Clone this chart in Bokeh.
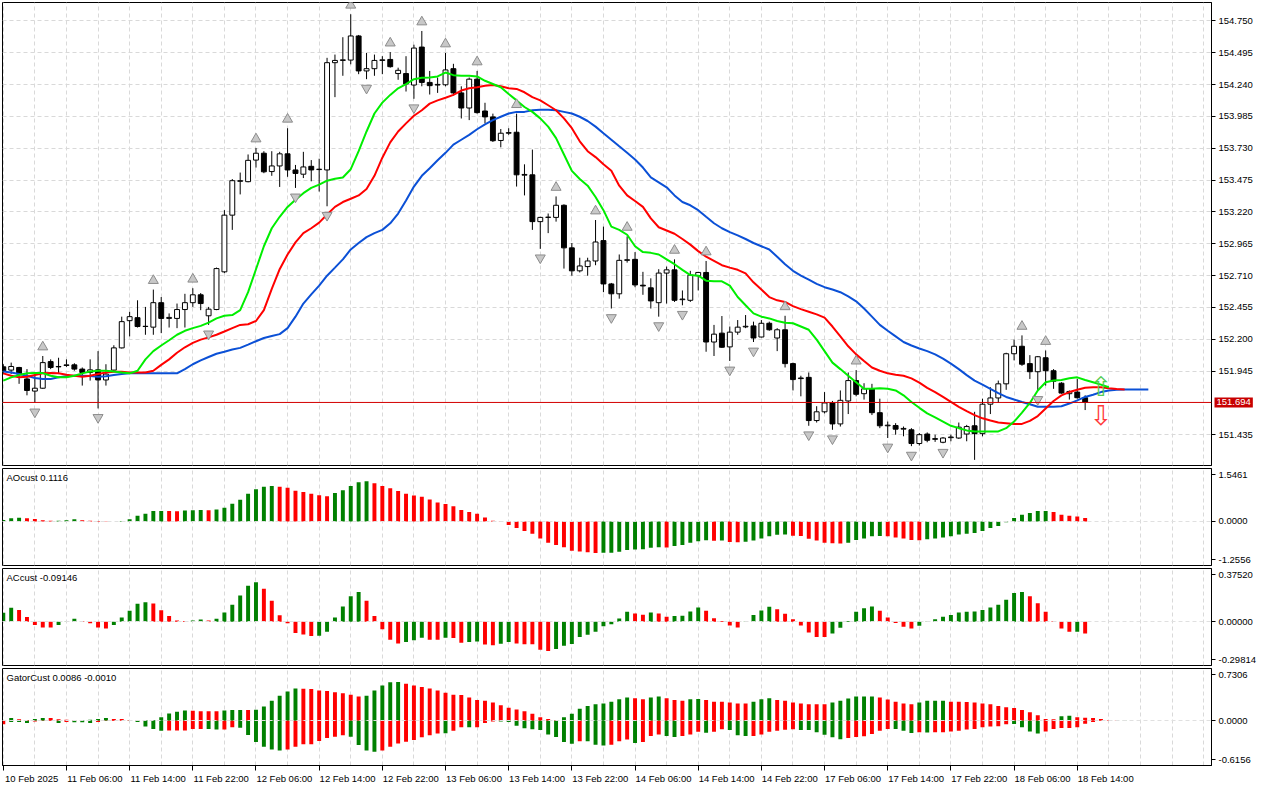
from bokeh.plotting import figure
from bokeh.layouts import column
from bokeh.models import (Range1d, FixedTicker, PrintfTickFormatter, Span, Label, ColumnDataSource,
                          CustomJSTickFormatter)
from bokeh.embed import file_html
from bokeh.resources import INLINE
from bokeh.core.properties import value

# ---------------- data (USDJPY H1) ----------------
TIME_LABELS = ["10 Feb 2025", "11 Feb 06:00", "11 Feb 14:00", "11 Feb 22:00", "12 Feb 06:00",
               "12 Feb 14:00", "12 Feb 22:00", "13 Feb 06:00", "13 Feb 14:00", "13 Feb 22:00",
               "14 Feb 06:00", "14 Feb 14:00", "14 Feb 22:00", "17 Feb 06:00", "17 Feb 14:00",
               "17 Feb 22:00", "18 Feb 06:00", "18 Feb 14:00"]
LABEL_STEP = 8
GRID_STEP = 4

PRICE_TICKS = [154.750, 154.495, 154.240, 153.985, 153.730, 153.475, 153.220, 152.965,
               152.710, 152.455, 152.200, 151.945, 151.435]
PRICE_GRID = [154.750, 154.495, 154.240, 153.985, 153.730, 153.475, 153.220, 152.965,
              152.710, 152.455, 152.200, 151.945, 151.690, 151.435]
PRICE_RANGE = (151.189, 154.897)
LAST_PRICE = 151.694

opens = [151.979, 151.953, 151.974, 151.882, 151.785, 151.808, 152.021, 151.982, 151.990, 151.995,
         151.961, 151.934, 151.955, 151.874, 151.953, 152.131, 152.349, 152.373, 152.302, 152.297,
         152.493, 152.367, 152.367, 152.438, 152.493, 152.556, 152.388, 152.438, 152.740, 153.194,
         153.465, 153.462, 153.635, 153.690, 153.543, 153.588, 153.685, 153.556, 153.522, 153.585,
         153.559, 153.556, 154.415, 154.433, 154.436, 154.629, 154.349, 154.367, 154.433, 154.441,
         154.328, 154.328, 154.236, 154.540, 154.257, 154.236, 154.238, 154.367, 154.173, 154.052,
         154.283, 154.028, 153.981, 153.792, 153.850, 153.858, 153.514, 153.517, 153.142, 153.176,
         153.176, 153.273, 152.932, 152.748, 152.782, 152.827, 152.990, 152.643, 152.564, 152.832,
         152.840, 152.633, 152.612, 152.493, 152.730, 152.756, 152.517, 152.512, 152.709, 152.735,
         152.178, 152.249, 152.139, 152.257, 152.299, 152.307, 152.218, 152.328, 152.210, 152.276,
         152.005, 151.890, 151.895, 151.549, 151.619, 151.690, 151.522, 151.706, 151.869, 151.764,
         151.803, 151.612, 151.507, 151.509, 151.480, 151.475, 151.365, 151.441, 151.404, 151.375,
         151.412, 151.409, 151.441, 151.507, 151.444, 151.680, 151.730, 151.843, 152.084, 152.144,
         152.005, 151.940, 152.052, 151.948, 151.848, 151.764, 151.777, 151.732]
highs = [152.000, 152.013, 151.979, 151.961, 151.921, 152.066, 152.039, 152.052, 152.039, 152.008,
         151.974, 152.039, 152.105, 152.000, 152.152, 152.381, 152.420, 152.512, 152.459, 152.598,
         152.538, 152.407, 152.486, 152.564, 152.609, 152.570, 152.459, 152.774, 153.234, 153.483,
         153.535, 153.680, 153.732, 153.706, 153.706, 153.701, 153.890, 153.596, 153.701, 153.635,
         153.646, 154.454, 154.480, 154.619, 154.803, 154.637, 154.493, 154.480, 154.467, 154.500,
         154.375, 154.467, 154.559, 154.669, 154.349, 154.296, 154.493, 154.406, 154.226, 154.296,
         154.349, 154.094, 154.007, 153.884, 153.890, 154.007, 153.601, 153.719, 153.181, 153.207,
         153.344, 153.281, 152.971, 152.853, 152.853, 153.155, 153.102, 152.651, 152.879, 153.024,
         152.898, 152.740, 152.688, 152.761, 152.782, 152.840, 152.591, 152.748, 152.740, 152.827,
         152.315, 152.386, 152.302, 152.354, 152.394, 152.341, 152.354, 152.341, 152.289, 152.388,
         152.013, 151.908, 151.934, 151.664, 151.777, 151.706, 151.790, 151.934, 151.953, 151.848,
         151.843, 151.724, 151.541, 151.528, 151.501, 151.488, 151.449, 151.454, 151.436, 151.417,
         151.436, 151.533, 151.514, 151.619, 151.724, 151.816, 151.869, 152.092, 152.197, 152.231,
         152.073, 152.066, 152.110, 151.961, 151.856, 151.790, 151.882, 151.751]
lows = [151.921, 151.921, 151.843, 151.751, 151.690, 151.803, 151.961, 151.921, 151.979, 151.948,
        151.829, 151.869, 151.646, 151.829, 151.948, 152.126, 152.223, 152.294, 152.236, 152.236,
        152.249, 152.294, 152.289, 152.294, 152.459, 152.433, 152.315, 152.433, 152.730, 153.076,
        153.360, 153.457, 153.575, 153.530, 153.509, 153.420, 153.501, 153.412, 153.491, 153.465,
        153.383, 153.265, 154.139, 154.310, 154.402, 154.323, 154.283, 154.310, 154.323, 154.375,
        154.278, 154.184, 154.126, 154.226, 154.160, 154.173, 154.226, 154.152, 153.968, 153.955,
        154.007, 153.929, 153.780, 153.737, 153.837, 153.423, 153.352, 153.076, 152.924, 153.050,
        153.142, 152.766, 152.709, 152.735, 152.709, 152.793, 152.577, 152.446, 152.525, 152.814,
        152.617, 152.556, 152.446, 152.381, 152.486, 152.499, 152.472, 152.499, 152.591, 152.100,
        152.066, 152.131, 152.026, 152.236, 152.289, 152.178, 152.215, 152.268, 152.105, 151.974,
        151.790, 151.743, 151.507, 151.533, 151.606, 151.475, 151.501, 151.601, 151.743, 151.717,
        151.593, 151.488, 151.409, 151.436, 151.423, 151.344, 151.349, 151.375, 151.378, 151.367,
        151.383, 151.402, 151.383, 151.234, 151.423, 151.601, 151.690, 151.795, 152.031, 151.987,
        151.882, 151.790, 151.829, 151.803, 151.764, 151.717, 151.724, 151.633]
closes = [151.948, 151.982, 151.921, 151.790, 151.808, 152.013, 151.974, 151.979, 151.995, 151.961,
          151.934, 151.955, 151.874, 151.921, 152.131, 152.341, 152.381, 152.302, 152.304, 152.493,
          152.367, 152.375, 152.438, 152.493, 152.556, 152.486, 152.441, 152.766, 153.194, 153.470,
          153.470, 153.633, 153.690, 153.541, 153.588, 153.685, 153.556, 153.528, 153.580, 153.556,
          153.562, 154.415, 154.433, 154.438, 154.629, 154.349, 154.367, 154.433, 154.438, 154.383,
          154.354, 154.244, 154.532, 154.257, 154.231, 154.241, 154.357, 154.173, 154.052, 154.283,
          154.015, 153.981, 153.790, 153.850, 153.855, 153.517, 153.520, 153.142, 153.176, 153.178,
          153.273, 152.932, 152.748, 152.787, 152.827, 152.979, 152.643, 152.564, 152.832, 152.837,
          152.635, 152.627, 152.507, 152.730, 152.756, 152.512, 152.522, 152.714, 152.735, 152.178,
          152.241, 152.136, 152.257, 152.297, 152.304, 152.210, 152.328, 152.276, 152.276, 152.005,
          151.877, 151.885, 151.549, 151.619, 151.690, 151.522, 151.711, 151.869, 151.759, 151.803,
          151.612, 151.507, 151.512, 151.480, 151.486, 151.365, 151.436, 151.391, 151.399, 151.409,
          151.417, 151.496, 151.501, 151.444, 151.680, 151.730, 151.843, 152.084, 152.144, 152.000,
          151.940, 152.060, 151.948, 151.864, 151.769, 151.782, 151.732, 151.694]

# Alligator lines (already shifted forward: lips +3, teeth +5, jaw +8)
lips = [151.869, 151.895, 151.913, 151.927, 151.929, 151.929, 151.908, 151.895, 151.895, 151.908,
        151.927, 151.942, 151.948, 151.948, 151.942, 151.934, 151.927, 151.948, 152.039, 152.105,
        152.150, 152.192, 152.236, 152.268, 152.289, 152.307, 152.333, 152.367, 152.388, 152.394,
        152.433, 152.577, 152.761, 152.945, 153.089, 153.181, 153.260, 153.318, 153.370, 153.412,
        153.438, 153.470, 153.486, 153.496, 153.562, 153.706, 153.864, 154.008, 154.095, 154.157,
        154.210, 154.244, 154.283, 154.294, 154.297, 154.305, 154.336, 154.315, 154.310, 154.310,
        154.305, 154.270, 154.244, 154.218, 154.165, 154.113, 154.060, 154.021, 153.969, 153.903,
        153.811, 153.680, 153.549, 153.483, 153.430, 153.339, 153.234, 153.102, 153.076, 153.037,
        152.945, 152.898, 152.892, 152.879, 152.840, 152.801, 152.756, 152.714, 152.709, 152.669,
        152.664, 152.664, 152.630, 152.538, 152.472, 152.407, 152.381, 152.367, 152.346, 152.333,
        152.328, 152.302, 152.276, 152.197, 152.105, 152.013, 151.961, 151.908, 151.856, 151.803,
        151.803, 151.808, 151.803, 151.790, 151.751, 151.698, 151.651, 151.606, 151.575, 151.541,
        151.507, 151.488, 151.470, 151.462, 151.462, 151.462, 151.462, 151.488, 151.541, 151.612,
        151.690, 151.790, 151.856, 151.869, 151.874, 151.887, 151.895, 151.874, 151.856, 151.837,
        151.816]
teeth = [151.927, 151.908, 151.895, 151.900, 151.913, 151.927, 151.929, 151.927, 151.916, 151.908,
         151.900, 151.908, 151.921, 151.934, 151.940, 151.940, 151.934, 151.934, 151.934, 151.948,
         151.995, 152.039, 152.092, 152.136, 152.171, 152.197, 152.215, 152.236, 152.262, 152.289,
         152.315, 152.320, 152.346, 152.433, 152.604, 152.761, 152.879, 152.976, 153.050, 153.089,
         153.134, 153.199, 153.260, 153.299, 153.325, 153.352, 153.404, 153.509, 153.654, 153.777,
         153.864, 153.929, 153.990, 154.034, 154.087, 154.113, 154.134, 154.157, 154.192, 154.210,
         154.218, 154.231, 154.236, 154.226, 154.210, 154.205, 154.178, 154.139, 154.113, 154.074,
         154.034, 153.969, 153.890, 153.785, 153.706, 153.659, 153.601, 153.549, 153.430, 153.352,
         153.307, 153.260, 153.168, 153.097, 153.071, 153.045, 153.003, 152.958, 152.906, 152.861,
         152.827, 152.793, 152.774, 152.756, 152.727, 152.656, 152.598, 152.538, 152.512, 152.499,
         152.465, 152.441, 152.420, 152.399, 152.373, 152.302, 152.223, 152.144, 152.079, 152.026,
         151.974, 151.948, 151.927, 151.916, 151.908, 151.887, 151.853, 151.811, 151.777, 151.738,
         151.698, 151.659, 151.625, 151.593, 151.567, 151.549, 151.533, 151.528, 151.522, 151.522,
         151.546, 151.585, 151.646, 151.706, 151.751, 151.777, 151.795, 151.811, 151.816, 151.816,
         151.808, 151.801, 151.798]
jaw = [151.942, 151.934, 151.921, 151.908, 151.890, 151.882, 151.882, 151.895, 151.903, 151.908,
       151.908, 151.906, 151.900, 151.903, 151.913, 151.921, 151.927, 151.927, 151.927, 151.927,
       151.927, 151.927, 151.927, 151.961, 152.000, 152.031, 152.058, 152.084, 152.100, 152.118,
       152.131, 152.157, 152.184, 152.210, 152.226, 152.241, 152.289, 152.381, 152.486, 152.559,
       152.630, 152.709, 152.774, 152.840, 152.919, 152.971, 153.018, 153.050, 153.076, 153.129,
       153.207, 153.312, 153.423, 153.509, 153.570, 153.633, 153.693, 153.759, 153.798, 153.837,
       153.882, 153.921, 153.955, 153.982, 154.008, 154.021, 154.021, 154.034, 154.039, 154.039,
       154.034, 154.021, 154.008, 153.982, 153.948, 153.903, 153.850, 153.798, 153.745, 153.693,
       153.640, 153.575, 153.496, 153.457, 153.417, 153.352, 153.299, 153.273, 153.234, 153.181,
       153.129, 153.089, 153.058, 153.032, 153.003, 152.971, 152.945, 152.919, 152.861, 152.801,
       152.748, 152.709, 152.677, 152.643, 152.617, 152.598, 152.577, 152.543, 152.504, 152.446,
       152.381, 152.315, 152.268, 152.223, 152.178, 152.150, 152.126, 152.105, 152.079, 152.045,
       152.005, 151.961, 151.913, 151.869, 151.837, 151.803, 151.769, 151.738, 151.717, 151.698,
       151.680, 151.659, 151.659, 151.659, 151.664, 151.685, 151.711, 151.738, 151.756, 151.777,
       151.790, 151.795, 151.798, 151.798, 151.798, 151.798]

fractal_up_bars = [5, 19, 24, 32, 36, 44, 49, 53, 56, 60, 65, 70, 75, 79, 85, 89, 99, 108, 129, 132]
fractal_down_bars = [4, 12, 26, 37, 41, 46, 52, 68, 77, 83, 86, 92, 95, 102, 105, 112, 115, 119, 123, 131]

signal_bar = [139]
signal_buy_price = [151.818]
signal_sell_price = [151.590]

# Awesome Oscillator
AO_NAME = "AOcust 0.1116"
AO_TICKS = [1.5461, 0.0, -1.2556]
ao = [0.05, 0.10, 0.12, 0.10, 0.08, 0.04, 0.02, 0.025, 0.04, 0.07,
      0.04, 0.02, -0.02, -0.01, -0.005, 0.01, 0.07, 0.19, 0.25, 0.34,
      0.345, 0.34, 0.335, 0.36, 0.37, 0.375, 0.37, 0.39, 0.45, 0.58,
      0.71, 0.91, 1.06, 1.14, 1.17, 1.14, 1.11, 1.01, 0.97, 0.91,
      0.86, 0.83, 0.94, 1.03, 1.17, 1.29, 1.32, 1.26, 1.17, 1.09,
      1.00, 0.91, 0.85, 0.81, 0.72, 0.62, 0.57, 0.50, 0.38, 0.31,
      0.25, 0.13, 0.02, -0.01, -0.12, -0.22, -0.32, -0.41, -0.56, -0.70,
      -0.78, -0.85, -0.97, -0.99, -1.02, -1.04, -1.035, -1.03, -1.00, -0.94,
      -0.93, -0.92, -0.87, -0.85, -0.86, -0.81, -0.78, -0.70, -0.65, -0.62,
      -0.64, -0.63, -0.68, -0.69, -0.67, -0.63, -0.56, -0.49, -0.44, -0.43,
      -0.47, -0.48, -0.57, -0.63, -0.70, -0.72, -0.73, -0.70, -0.61, -0.56,
      -0.49, -0.48, -0.49, -0.53, -0.56, -0.61, -0.62, -0.59, -0.56, -0.53,
      -0.49, -0.43, -0.41, -0.38, -0.32, -0.22, -0.15, -0.03, 0.11, 0.22,
      0.28, 0.34, 0.345, 0.31, 0.22, 0.19, 0.16, 0.1116]
ao_dir = ("ggg" + "rrrr" + "ggg" + "rrrr" + "ggggggg" + "rr" + "ggg" + "r" + "gggggggg" +
          "rrrrrrr" + "ggggg" + "rrrrrrrrrrrrrrrrrrrrrrrrrrrrr" + "gggggggg" + "r" + "ggggg" +
          "r" + "g" + "rr" + "gggggg" + "rrrrrrr" + "ggggg" + "rrrrr" + "gggggggggggggggg" + "rrrrr")

# Accelerator Oscillator
AC_NAME = "ACcust -0.09146"
AC_TICKS = [0.37520, 0.0, -0.29814]
ac = [0.072, 0.112, 0.094, 0.038, -0.025, -0.045, -0.045, -0.025, 0.002, 0.025,
      0.007, -0.011, -0.045, -0.052, -0.025, 0.034, 0.088, 0.144, 0.155, 0.146,
      0.092, 0.047, 0.011, 0.007, 0.011, 0.018, 0.011, 0.025, 0.074, 0.135,
      0.209, 0.287, 0.314, 0.263, 0.168, 0.052, -0.011, -0.088, -0.101, -0.112,
      -0.110, -0.079, 0.034, 0.121, 0.202, 0.236, 0.168, 0.047, -0.058, -0.141,
      -0.171, -0.159, -0.146, -0.126, -0.141, -0.142, -0.126, -0.127, -0.166, -0.159,
      -0.155, -0.180, -0.186, -0.173, -0.159, -0.171, -0.177, -0.178, -0.220, -0.231,
      -0.215, -0.189, -0.175, -0.119, -0.103, -0.079, -0.034, -0.018, 0.027, 0.081,
      0.067, 0.056, 0.074, 0.067, 0.040, 0.047, 0.048, 0.083, 0.114, 0.088,
      0.029, 0.007, -0.029, -0.045, -0.002, 0.054, 0.090, 0.119, 0.099, 0.065,
      0.020, -0.029, -0.085, -0.119, -0.120, -0.092, -0.047, 0.007, 0.081, 0.108,
      0.121, 0.088, 0.034, -0.009, -0.038, -0.052, -0.031, -0.002, 0.020, 0.040,
      0.054, 0.074, 0.081, 0.083, 0.094, 0.114, 0.135, 0.175, 0.229, 0.236,
      0.202, 0.148, 0.081, 0.007, -0.052, -0.079, -0.078, -0.09146]
ac_dir = ("gg" + "rrrrr" + "ggg" + "rrrr" + "ggggg" + "rrrrr" + "gg" + "r" + "gggggg" + "rrrrrrr" +
          "gggggg" + "rrrrr" + "ggg" + "rr" + "g" + "rr" + "gg" + "rr" + "gg" + "rrrrr" +
          "gggggggggg" + "rr" + "g" + "rr" + "gggg" + "rrrrr" + "gggg" + "rrrrrrr" + "gggggg" +
          "rrrrr" + "gggggggggggggg" + "rrrrrr" + "g" + "r")

# Gator Oscillator
GATOR_NAME = "GatorCust 0.0086 -0.0010"
GATOR_TICKS = [0.7306, 0.0, -0.6156]
gator_up = [0.010, 0.041, 0.023, 0.009, 0.027, 0.041, 0.040, 0.023, 0.014, 0.005,
            0.006, 0.014, 0.027, 0.041, 0.027, 0.026, 0.009, 0.001, 0.009, 0.010,
            0.054, 0.113, 0.141, 0.159, 0.158, 0.150, 0.149, 0.148, 0.159, 0.168,
            0.169, 0.167, 0.172, 0.222, 0.313, 0.395, 0.463, 0.508, 0.505, 0.500,
            0.476, 0.470, 0.449, 0.435, 0.408, 0.381, 0.395, 0.476, 0.558, 0.608,
            0.612, 0.585, 0.558, 0.531, 0.508, 0.476, 0.440, 0.410, 0.406, 0.367,
            0.327, 0.313, 0.286, 0.245, 0.204, 0.177, 0.150, 0.109, 0.054, 0.027,
            0.005, 0.054, 0.109, 0.190, 0.231, 0.259, 0.272, 0.299, 0.340, 0.367,
            0.354, 0.340, 0.367, 0.381, 0.354, 0.327, 0.313, 0.340, 0.341, 0.327,
            0.299, 0.298, 0.286, 0.272, 0.271, 0.299, 0.340, 0.354, 0.327, 0.313,
            0.286, 0.272, 0.259, 0.259, 0.258, 0.286, 0.313, 0.349, 0.381, 0.382,
            0.383, 0.367, 0.336, 0.299, 0.272, 0.259, 0.286, 0.313, 0.314, 0.315,
            0.299, 0.298, 0.297, 0.286, 0.272, 0.259, 0.231, 0.213, 0.200, 0.168,
            0.132, 0.086, 0.027, 0.020, 0.068, 0.077, 0.054, 0.045, 0.041, 0.027,
            0.005, 0.002, 0.002]
gator_up_dir = ("r" + "g" + "rr" + "gg" + "rrrr" + "gggg" + "rrrr" + "gggggg" + "rrrr" + "ggg" +
                "r" + "gggggg" + "rrrrrrrr" + "ggggg" + "rrrrrrrrrrrrrrrrrrrr" + "ggggggggg" +
                "rr" + "gg" + "rrr" + "gg" + "rrrrrr" + "ggg" + "rrrrrrr" + "gggggg" + "rrrrr" +
                "gggg" + "rrrrrrrrrrrrrr" + "gg" + "rrrrrr" + "g")
gator_down = [-0.059, -0.023, -0.023, -0.036, -0.014, -0.005, -0.004, -0.036, -0.023, -0.025,
              -0.027, -0.036, -0.023, -0.005, -0.004, -0.003, -0.005, -0.023, -0.091, -0.132,
              -0.159, -0.158, -0.157, -0.156, -0.132, -0.131, -0.132, -0.141, -0.140, -0.104,
              -0.113, -0.227, -0.340, -0.413, -0.458, -0.472, -0.458, -0.413, -0.376, -0.375,
              -0.322, -0.277, -0.254, -0.231, -0.254, -0.385, -0.472, -0.494, -0.472, -0.413,
              -0.363, -0.336, -0.308, -0.263, -0.231, -0.204, -0.200, -0.159, -0.104, -0.104,
              -0.104, -0.036, -0.014, -0.014, -0.023, -0.082, -0.122, -0.136, -0.150, -0.218,
              -0.259, -0.340, -0.367, -0.327, -0.327, -0.381, -0.395, -0.381, -0.327, -0.299,
              -0.354, -0.340, -0.245, -0.218, -0.245, -0.259, -0.245, -0.218, -0.177, -0.190,
              -0.177, -0.136, -0.150, -0.231, -0.245, -0.245, -0.218, -0.177, -0.159, -0.145,
              -0.136, -0.150, -0.150, -0.186, -0.222, -0.263, -0.295, -0.277, -0.259, -0.249,
              -0.213, -0.159, -0.132, -0.133, -0.159, -0.195, -0.186, -0.187, -0.186, -0.185,
              -0.172, -0.159, -0.141, -0.132, -0.104, -0.091, -0.090, -0.059, -0.052, -0.104,
              -0.172, -0.204, -0.172, -0.132, -0.118, -0.118, -0.104, -0.050, -0.023]
gator_down_dir = ("r" + "ggg" + "rrr" + "g" + "r" + "ggg" + "rrrr" + "ggggg" + "rrrrr" + "gg" +
                  "rr" + "gggggg" + "rrrrrrrr" + "gggg" + "rrrrrrrr" + "g" + "rr" + "g" + "rrr" +
                  "gggggggggg" + "r" + "ggg" + "rrr" + "g" + "rrr" + "gg" + "rrr" + "g" + "rr" +
                  "ggg" + "rrrrrr" + "gggggg" + "rrrrrr" + "ggg" + "r" + "g" + "rrrrrrrrrr" +
                  "gggg" + "rrrrrrr")

# ---------------- style ----------------
FONT = "Liberation Sans"
FS = "9.5px"
GREEN = "#008000"
RED = "#FF0000"
GRID_COLOR = "#d9d9d9"
FW = 1209
LEFT = 2
RIGHT = 53
MAIN_H = 463
SUB_H = 97
X_START, X_END = -0.1, 153.0
LABEL_SHIFT = 3.6   # date texts start at their tick: centre sits about half a label to the right

xr = Range1d(X_START, X_END)
n = len(closes)
grid_ticks = list(range(0, 156, GRID_STEP))


def padded(lo, hi, h, pad=6):
    k = (hi - lo) / (h - 2 * pad)
    return lo - pad * k, hi + pad * k


def make_fig(frame_h, yr, yticks, fmt, top=2, bottom=1, xaxis=False, zero_grid=False):
    p = figure(frame_width=FW, frame_height=frame_h, x_range=xr, y_range=Range1d(*yr),
               output_backend="svg", toolbar_location=None,
               x_axis_location="below" if xaxis else None, y_axis_location="right",
               min_border_left=LEFT, min_border_right=RIGHT, min_border_top=top,
               min_border_bottom=bottom, background_fill_color="white",
               border_fill_color="white")
    p.outline_line_color = "black"
    p.outline_line_width = 1
    ya = p.yaxis[0]
    ya.ticker = FixedTicker(ticks=yticks)
    ya.formatter = PrintfTickFormatter(format=fmt)
    ya.major_label_text_font = FONT
    ya.major_label_text_font_size = FS
    ya.major_label_text_color = "black"
    ya.major_tick_out = 4
    ya.major_tick_in = 0
    ya.minor_tick_out = 0
    ya.minor_tick_in = 0
    ya.major_label_standoff = 3
    ya.axis_line_color = "black"
    p.xgrid.ticker = FixedTicker(ticks=grid_ticks)
    p.xgrid.grid_line_color = GRID_COLOR
    p.xgrid.grid_line_dash = "4 3"
    p.ygrid.grid_line_color = GRID_COLOR
    p.ygrid.grid_line_dash = "4 3"
    if zero_grid:
        p.ygrid.ticker = FixedTicker(ticks=[0.0])
        p.ygrid.level = "overlay"
        p.ygrid.grid_line_color = "#e0e0e0"
    return p


# ---------------- main price panel ----------------
pm = make_fig(MAIN_H, PRICE_RANGE, PRICE_TICKS, "%.3f", top=2, bottom=1)
pm.ygrid.ticker = FixedTicker(ticks=PRICE_GRID)
px_price = (PRICE_RANGE[1] - PRICE_RANGE[0]) / MAIN_H   # price per screen pixel

idx = list(range(n))
src = ColumnDataSource(dict(
    x=idx, o=opens, h=highs, l=lows, c=closes,
    top=[max(a, b) for a, b in zip(opens, closes)],
    bot=[min(a, b) for a, b in zip(opens, closes)],
    fill=["white" if c >= o else "black" for o, c in zip(opens, closes)],
))
pm.segment(x0="x", y0="l", x1="x", y1="h", source=src, line_color="black", line_width=1)
pm.vbar(x="x", width=0.62, top="top", bottom="bot", source=src,
        fill_color="fill", line_color="black", line_width=1)

pm.line(list(range(len(jaw))), jaw, line_color="#0b50d6", line_width=2)
pm.line(list(range(len(teeth))), teeth, line_color="#ff0000", line_width=2)
pm.line(list(range(len(lips))), lips, line_color="#00ee00", line_width=2)

pm.add_layout(Span(location=LAST_PRICE, dimension="width", line_color="#d40000", line_width=1))

# Bill Williams fractals (arrow sits a few pixels beyond the bar's extreme)
pm.scatter(x=fractal_up_bars, y=[highs[i] + 9 * px_price for i in fractal_up_bars],
           marker="triangle", size=10, fill_color="#c8c8c8", line_color="#8c8c8c", line_width=1)
pm.scatter(x=fractal_down_bars, y=[lows[i] - 9 * px_price for i in fractal_down_bars],
           marker="inverted_triangle", size=10, fill_color="#c8c8c8", line_color="#8c8c8c", line_width=1)

# trade signal arrows (hollow block arrows)
pm.text(x=signal_bar, y=signal_buy_price, text=["\u21e7"], text_font=value("DejaVu Sans"),
        text_font_size="27px", text_color="#52cc52", text_align="center", text_baseline="middle")
pm.text(x=signal_bar, y=signal_sell_price, text=["\u21e9"], text_font=value("DejaVu Sans"),
        text_font_size="27px", text_color="#ff3a3a", text_align="center", text_baseline="middle")

price_tag = Label(x=X_END, y=LAST_PRICE, text=f"{LAST_PRICE:.3f}", x_offset=3,
                  text_baseline="middle", text_align="left", text_color="white",
                  text_font=FONT, text_font_size=FS, background_fill_color="#c80000",
                  padding=2)
pm.add_layout(price_tag, "right")


def hist_panel(name, vals, dirs, ticks, fmt, xaxis=False, extra=None, extra_dirs=None):
    lo, hi = min(ticks), max(ticks)
    p = make_fig(SUB_H, padded(lo, hi, SUB_H), ticks, fmt, top=2, bottom=18 if xaxis else 1,
                 xaxis=xaxis, zero_grid=True)
    cols = [GREEN if d == "g" else RED for d in dirs]
    p.vbar(x=list(range(len(vals))), top=vals, bottom=0, width=0.5, fill_color=cols, line_color=None)
    if extra is not None:
        cols2 = [GREEN if d == "g" else RED for d in extra_dirs]
        p.vbar(x=list(range(len(extra))), top=extra, bottom=0, width=0.5, fill_color=cols2, line_color=None)
    p.add_layout(Label(x=X_START, y=p.y_range.end, text=name, x_offset=4, y_offset=-3,
                       text_baseline="top", text_align="left", text_font=FONT,
                       text_font_size=FS, text_color="black"))
    return p


pao = hist_panel(AO_NAME, ao, ao_dir, AO_TICKS, "%.4f")
pac = hist_panel(AC_NAME, ac, ac_dir, AC_TICKS, "%.5f")
pga = hist_panel(GATOR_NAME, gator_up, gator_up_dir, GATOR_TICKS, "%.4f", xaxis=True,
                 extra=gator_down, extra_dirs=gator_down_dir)

# time axis: tick marks (minor) at the label bars, texts (major) left-aligned to them
label_ticks = [i * LABEL_STEP for i in range(len(TIME_LABELS))]
xa = pga.xaxis[0]
xa.ticker = FixedTicker(ticks=[t + LABEL_SHIFT for t in label_ticks], minor_ticks=label_ticks)
xa.formatter = CustomJSTickFormatter(
    args=dict(labels=TIME_LABELS, shift=LABEL_SHIFT, step=LABEL_STEP),
    code="const i = Math.round((tick - shift) / step); return (i >= 0 && i < labels.length) ? labels[i] : '';")
xa.major_tick_out = 0
xa.major_tick_in = 0
xa.minor_tick_out = 5
xa.minor_tick_in = 0
xa.minor_tick_line_color = "black"
xa.major_label_standoff = 2
xa.major_label_text_font = FONT
xa.major_label_text_font_size = FS
xa.major_label_text_color = "black"
xa.axis_line_color = "black"

layout = column(pm, pao, pac, pga, spacing=0)
open("out.html", "w").write(file_html(layout, INLINE))
